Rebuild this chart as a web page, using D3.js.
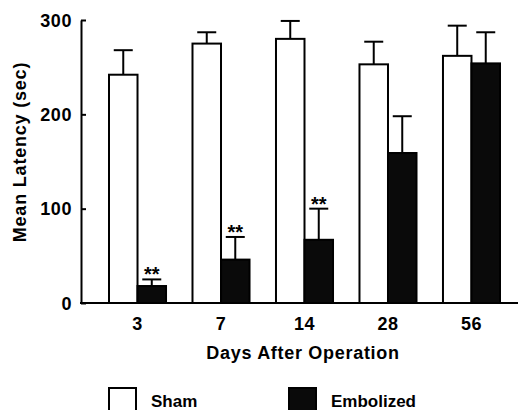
<!DOCTYPE html>
<html>
<head>
<meta charset="utf-8">
<script src="https://cdn.jsdelivr.net/npm/d3@7"></script>
<style>
  html, body { margin: 0; padding: 0; background: #fff; }
  svg { display: block; }
  text { font-family: "Liberation Sans", Arial, Helvetica, sans-serif; font-weight: bold; fill: #000; }
</style>
</head>
<body>
<script>
// ---- data ----
const days = ["3", "7", "14", "28", "56"];
const shamMean = [242, 275, 280, 253, 262];
const shamErr = [26, 12, 19, 24, 32];
const embolizedMean = [18, 46, 67, 159, 254];
const embolizedErr = [7, 24, 33, 39, 33];
const significant = [true, true, true, false, false];
const yTicks = [0, 100, 200, 300];
const seriesNames = ["Sham", "Embolized"];

const W = 520, H = 410;
const svg = d3.select("body").append("svg").attr("width", W).attr("height", H);

const y = d3.scaleLinear().domain([0, 300]).range([303, 20]);
const x = d3.scaleBand().domain(days).range([109, 500]).paddingInner(0.317).paddingOuter(0);
const xs = d3.scaleBand().domain(seriesNames).range([0, x.bandwidth()]).padding(0);
const fill = d3.scaleOrdinal().domain(seriesNames).range(["#ffffff", "#0a0a0a"]);

const rows = [];
days.forEach((d, i) => {
  rows.push({ day: d, s: "Sham", v: shamMean[i], e: shamErr[i], sig: false });
  rows.push({ day: d, s: "Embolized", v: embolizedMean[i], e: embolizedErr[i], sig: significant[i] });
});

// error bars (behind bars)
const eb = svg.append("g").attr("stroke", "#000").attr("stroke-width", 2);
rows.forEach(r => {
  const cx = x(r.day) + xs(r.s) + xs.bandwidth() / 2;
  eb.append("line").attr("x1", cx).attr("x2", cx).attr("y1", y(r.v)).attr("y2", y(r.v + r.e));
  eb.append("line").attr("x1", cx - 9.5).attr("x2", cx + 9.5).attr("y1", y(r.v + r.e)).attr("y2", y(r.v + r.e));
});

// bars
svg.append("g").selectAll("rect").data(rows).join("rect")
  .attr("x", r => x(r.day) + xs(r.s))
  .attr("y", r => y(r.v))
  .attr("width", xs.bandwidth())
  .attr("height", r => y(0) - y(r.v))
  .attr("fill", r => fill(r.s))
  .attr("stroke", "#000")
  .attr("stroke-width", 2);

// significance stars
svg.append("g").selectAll("text").data(rows.filter(r => r.sig)).join("text")
  .attr("x", r => x(r.day) + xs(r.s) + xs.bandwidth() / 2)
  .attr("y", r => y(r.v + r.e) + 2)
  .attr("text-anchor", "middle")
  .style("font-size", "20px")
  .text("**");

// y axis
const yAxis = svg.append("g").attr("transform", "translate(81,0)")
  .call(d3.axisLeft(y).tickValues(yTicks).tickSize(-5).tickSizeOuter(0).tickPadding(9));
yAxis.select(".domain").attr("stroke-width", 2);
yAxis.selectAll(".tick line").attr("stroke-width", 2);
yAxis.selectAll(".tick text").style("font-size", "18px").style("letter-spacing", "0.6px")
  .style("font-family", "'Liberation Sans', Arial, sans-serif").attr("dy", "0.35em");

// x baseline
svg.append("line").attr("x1", 80).attr("x2", 518).attr("y1", y(0)).attr("y2", y(0))
  .attr("stroke", "#000").attr("stroke-width", 2);

// x axis labels
const xAxis = svg.append("g").attr("transform", `translate(0,${y(0)})`)
  .call(d3.axisBottom(x).tickSize(0).tickPadding(14));
xAxis.select(".domain").remove();
xAxis.selectAll(".tick text").style("font-size", "18px").style("letter-spacing", "0.6px")
  .style("font-family", "'Liberation Sans', Arial, sans-serif");

// axis titles
svg.append("text").attr("x", 303).attr("y", 359).attr("text-anchor", "middle")
  .style("font-size", "18px").style("letter-spacing", "0.7px")
  .text("Days After Operation");
svg.append("text").attr("transform", "translate(26,152) rotate(-90)").attr("text-anchor", "middle")
  .style("font-size", "18px").style("letter-spacing", "0.8px")
  .text("Mean Latency (sec)");

// legend
const legendX = [108, 288];
const lg = svg.append("g");
seriesNames.forEach((s, i) => {
  lg.append("rect").attr("x", legendX[i] + 1).attr("y", 388).attr("width", 27).attr("height", 26)
    .attr("fill", fill(s)).attr("stroke", "#000").attr("stroke-width", 2);
  lg.append("text").attr("x", legendX[i] + 43).attr("y", 407).style("font-size", "17px").text(s);
});
</script>
</body>
</html>
